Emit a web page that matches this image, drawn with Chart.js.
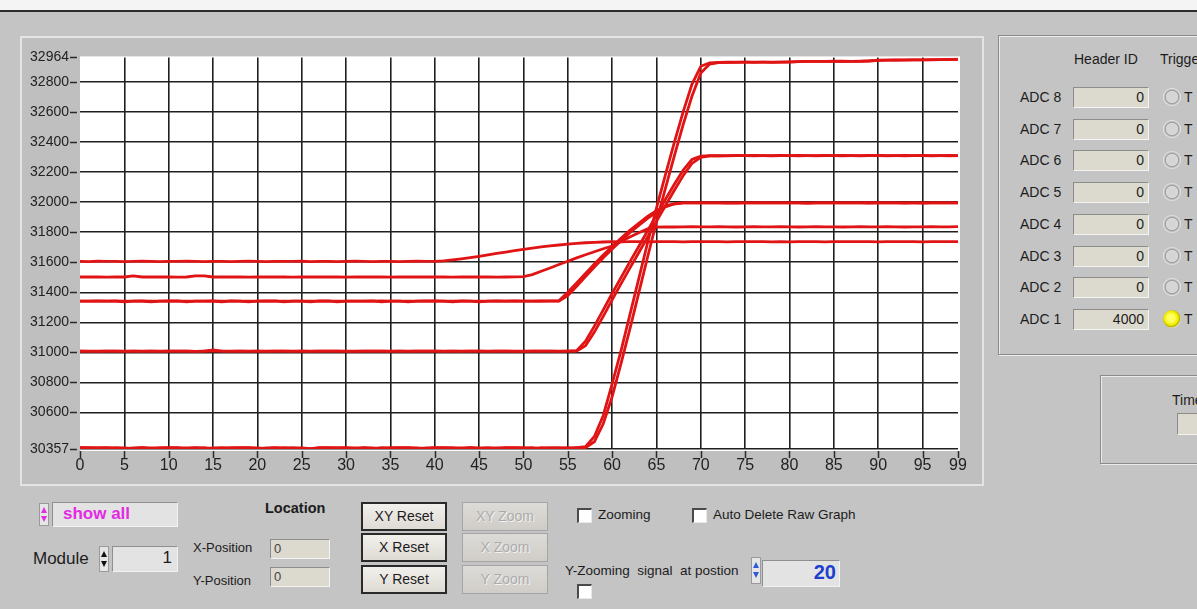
<!DOCTYPE html>
<html>
<head>
<meta charset="utf-8">
<title>ADC Raw Graph</title>
<script src="https://cdn.jsdelivr.net/npm/chart.js@4.4.1/dist/chart.umd.min.js"></script>
<style>
  html, body { margin: 0; padding: 0; }
  body {
    width: 1197px; height: 609px; position: relative; overflow: hidden;
    background: #c4c4c4;
    font-family: "Liberation Sans", Arial, sans-serif; color: #1c1c1c;
  }
  .abs { position: absolute; white-space: pre; }
  #titlebar { left: 0; top: 0; width: 1197px; height: 10px; background: #f4f4f4; border-bottom: 2px solid #2c2c2c; }
  #graphFrame { left: 20px; top: 36px; width: 964px; height: 450px; box-sizing: border-box;
    border: 2px solid #e4e4e4; background: #bfbfbf; }
  #chartBox { left: 22px; top: 38px; width: 958px; height: 440px; }
  .panel { box-sizing: border-box; border: 1px solid #8a8a8a; box-shadow: inset 1px 1px 0 #ececec, 1px 1px 0 #ececec; }
  .field { box-sizing: border-box; background: #dcd9cf; border-top: 1px solid #8c8c8c; border-left: 1px solid #8c8c8c;
    border-right: 1px solid #f4f4f4; border-bottom: 1px solid #f4f4f4; font-size: 14px; line-height: 18px; }
  .num { text-align: right; padding-right: 4px; }
  .lbl { font-size: 14px; }
  .led { width: 18px; height: 18px; border-radius: 50%; box-sizing: border-box;
    background: radial-gradient(circle at 50% 50%, #d6d6d6 0 45%, #9c9c9c 52%, #f0f0f0 70%, #8f8f8f 100%); }
  .led.on { background: radial-gradient(circle at 45% 45%, #ffff60 0 25%, #f1ea00 50%, #b9b400 62%, #efefef 72%, #8f8f8f 100%); }
  .btn { box-sizing: border-box; width: 86px; height: 29px; border: 2px solid #2a2a2a;
    background: linear-gradient(#f2f0ec, #dedbd5); font-size: 14px; text-align: center; line-height: 25px; }
  .btn.off { border: 1px solid #a4a4a4; color: #acacac; text-shadow: 1px 1px 0 #f2f2f2; line-height: 27px;
    background: linear-gradient(#dddbd7, #d0cdc8); }
  .chk { box-sizing: border-box; width: 15px; height: 15px; background: #fff;
    border-top: 2px solid #4a4a4a; border-left: 2px solid #4a4a4a; border-right: 1px solid #e8e8e8; border-bottom: 1px solid #e8e8e8; }
  .spin { box-sizing: border-box; width: 10px; border: 1px solid #9a9a9a; background: #e6e6e6; }
  .spin div { position: absolute; left: 1px; width: 0; height: 0; border-left: 3.5px solid transparent; border-right: 3.5px solid transparent; }
  .box { box-sizing: border-box; background: #e3e3e3; border-top: 1px solid #8f8f8f; border-left: 1px solid #8f8f8f;
    border-right: 1px solid #f2f2f2; border-bottom: 1px solid #f2f2f2; }
</style>
</head>
<body>
<div class="abs" id="titlebar"></div>
<div class="abs" id="graphFrame"></div>
<div class="abs" id="chartBox"><canvas id="rawGraph" width="958" height="440"></canvas></div>

<!-- header / trigger panel -->
<div class="abs panel" style="left:998px;top:35px;width:230px;height:320px;"></div>
<div class="abs lbl" style="left:1074px;top:51px;">Header ID</div>
<div class="abs lbl" style="left:1160px;top:51px;">Trigger</div>
<div id="adcRows"></div>

<div class="abs panel" style="left:1100px;top:375px;width:130px;height:89px;"></div>
<div class="abs lbl" style="left:1172px;top:392px;">Time</div>
<div class="abs field" style="left:1177px;top:413px;width:40px;height:22px;"></div>

<!-- display selector -->
<div class="abs spin" style="left:39px;top:503px;height:23px;"><div style="top:3px;border-bottom:6px solid #e02ee0;"></div><div style="top:12px;border-top:6px solid #e02ee0;"></div></div>
<div class="abs box" style="left:52px;top:502px;width:126px;height:25px;"></div>
<div class="abs" style="left:63px;top:504px;font-size:17px;font-weight:bold;color:#e22be2;">show all</div>

<div class="abs" style="left:33px;top:549px;font-size:17px;">Module</div>
<div class="abs spin" style="left:99px;top:546px;height:26px;"><div style="top:4px;border-bottom:6px solid #111;"></div><div style="top:14px;border-top:6px solid #111;"></div></div>
<div class="abs box" style="left:112px;top:546px;width:66px;height:26px;"></div>
<div class="abs" style="left:112px;top:548px;width:60px;text-align:right;font-size:17px;">1</div>

<!-- cursor location -->
<div class="abs" style="left:265px;top:500px;font-size:14.5px;font-weight:bold;">Location</div>
<div class="abs" style="left:193px;top:540px;font-size:13px;">X-Position</div>
<div class="abs field" style="left:270px;top:539px;width:60px;height:20px;font-size:13px;line-height:17px;padding-left:3px;color:#444;">0</div>
<div class="abs" style="left:193px;top:573px;font-size:13px;">Y-Position</div>
<div class="abs field" style="left:270px;top:567px;width:60px;height:20px;font-size:13px;line-height:17px;padding-left:3px;color:#444;">0</div>

<!-- zoom buttons -->
<div class="abs btn" style="left:361px;top:502px;">XY Reset</div>
<div class="abs btn" style="left:361px;top:533px;">X Reset</div>
<div class="abs btn" style="left:361px;top:565px;">Y Reset</div>
<div class="abs btn off" style="left:462px;top:502px;">XY Zoom</div>
<div class="abs btn off" style="left:462px;top:533px;">X Zoom</div>
<div class="abs btn off" style="left:462px;top:565px;">Y Zoom</div>

<div class="abs chk" style="left:577px;top:508px;"></div>
<div class="abs" style="left:598px;top:507px;font-size:13.5px;">Zooming</div>
<div class="abs chk" style="left:692px;top:508px;"></div>
<div class="abs" style="left:713px;top:507px;font-size:13.5px;">Auto Delete Raw Graph</div>

<div class="abs" style="left:565px;top:563px;font-size:13.5px;">Y-Zooming  signal  at postion</div>
<div class="abs chk" style="left:577px;top:584px;"></div>
<div class="abs spin" style="left:751px;top:557px;height:27px;"><div style="top:4px;border-bottom:6px solid #2e5ad8;"></div><div style="top:14px;border-top:6px solid #2e5ad8;"></div></div>
<div class="abs box" style="left:762px;top:560px;width:78px;height:27px;"></div>
<div class="abs" style="left:762px;top:561px;width:74px;text-align:right;font-size:20px;font-weight:bold;color:#1c3fcf;">20</div>

<script>
// ---- ADC header panel ----
const adcNames   = ["ADC 8", "ADC 7", "ADC 6", "ADC 5", "ADC 4", "ADC 3", "ADC 2", "ADC 1"];
const headerIds  = [0, 0, 0, 0, 0, 0, 0, 4000];
const triggered  = [false, false, false, false, false, false, false, true];

// ---- raw graph axes ----
const sampleIdx  = Array.from({ length: 100 }, (_, i) => i);
const xTicks     = [0, 5, 10, 15, 20, 25, 30, 35, 40, 45, 50, 55, 60, 65, 70, 75, 80, 85, 90, 95, 99];
const yTicks     = [30357, 30600, 30800, 31000, 31200, 31400, 31600, 31800, 32000, 32200, 32400, 32600, 32800, 32964];
const yMin = 30357, yMax = 32964, xMin = 0, xMax = 99;

// ---- raw ADC waveforms (one row per recorded pulse) ----
const pulseA = [
  31606,31605,31607,31606,31606,31605,31606,31608,31606,31605,
  31606,31606,31607,31606,31605,31606,31606,31605,31606,31607,
  31606,31605,31606,31606,31606,31607,31605,31606,31606,31605,
  31606,31607,31606,31605,31606,31606,31605,31606,31607,31606,
  31606,31610,31616,31623,31631,31640,31650,31659,31668,31677,
  31686,31694,31702,31709,31715,31721,31726,31730,31733,31735,
  31737,31736,31738,31737,31736,31737,31738,31737,31736,31737,
  31737,31738,31737,31736,31737,31737,31738,31737,31736,31737,
  31736,31737,31738,31737,31736,31737,31737,31738,31737,31737,
  31736,31737,31737,31738,31737,31736,31737,31737,31738,31737];
const pulseB = [
  31502,31503,31502,31501,31502,31502,31509,31502,31503,31502,
  31502,31501,31502,31510,31509,31502,31503,31502,31502,31501,
  31502,31502,31503,31502,31501,31502,31502,31503,31502,31502,
  31501,31502,31503,31502,31502,31501,31502,31502,31503,31502,
  31502,31502,31501,31502,31503,31502,31502,31501,31502,31503,
  31504,31518,31540,31562,31585,31607,31629,31650,31670,31690,
  31708,31738,31768,31797,31822,31834,31836,31835,31836,31837,
  31836,31836,31837,31836,31835,31836,31837,31836,31836,31837,
  31836,31835,31836,31837,31836,31836,31835,31836,31837,31836,
  31836,31837,31836,31835,31836,31836,31837,31836,31836,31837];
const pulseC = [
  31342,31341,31343,31342,31342,31336,31342,31343,31342,31341,
  31342,31343,31336,31342,31341,31342,31336,31343,31342,31342,
  31341,31342,31343,31336,31342,31342,31341,31342,31343,31336,
  31342,31341,31342,31342,31343,31342,31341,31336,31342,31343,
  31342,31341,31342,31343,31342,31336,31342,31341,31342,31343,
  31342,31341,31342,31343,31344,31400,31462,31525,31588,31648,
  31705,31760,31812,31860,31905,31944,31975,31991,31995,31996,
  31995,31996,31995,31994,31996,31995,31996,31997,31995,31995,
  31996,31995,31994,31996,31995,31996,31995,31995,31996,31997,
  31995,31996,31995,31994,31996,31995,31996,31995,31996,31995];
const pulseC2 = [
  31342,31342,31341,31342,31343,31342,31342,31341,31336,31342,
  31343,31342,31341,31342,31342,31343,31342,31341,31342,31336,
  31342,31343,31342,31342,31341,31342,31336,31343,31342,31342,
  31341,31342,31342,31343,31336,31342,31342,31341,31342,31342,
  31343,31342,31336,31342,31341,31342,31342,31343,31342,31341,
  31342,31342,31343,31342,31342,31378,31440,31505,31568,31630,
  31688,31744,31797,31846,31892,31934,31968,31988,31995,31996,
  31996,31995,31995,31996,31994,31995,31996,31995,31995,31996,
  31995,31996,31994,31995,31996,31995,31995,31996,31995,31994,
  31996,31995,31995,31996,31995,31994,31996,31995,31995,31996];
const pulseD = [
  31008,31007,31009,31008,31008,31007,31008,31009,31008,31007,
  31008,31009,31008,31007,31008,31016,31008,31007,31009,31008,
  31008,31007,31008,31009,31008,31008,31007,31008,31009,31008,
  31007,31008,31008,31009,31008,31007,31008,31008,31009,31008,
  31008,31007,31008,31009,31008,31008,31007,31008,31009,31008,
  31007,31008,31008,31009,31008,31008,31012,31075,31175,31283,
  31392,31498,31603,31705,31810,31914,32018,32118,32212,32284,
  32306,32310,32309,32310,32311,32310,32309,32310,32310,32311,
  32310,32309,32310,32310,32311,32310,32309,32310,32310,32311,
  32310,32309,32310,32311,32310,32310,32309,32310,32311,32310];
const pulseD2 = [
  31008,31008,31007,31008,31009,31008,31008,31007,31008,31008,
  31009,31008,31008,31007,31008,31008,31009,31008,31008,31007,
  31008,31008,31009,31008,31007,31008,31008,31008,31009,31008,
  31008,31007,31008,31008,31009,31008,31008,31007,31008,31008,
  31009,31008,31008,31007,31008,31008,31009,31008,31008,31007,
  31008,31008,31009,31008,31007,31008,31009,31045,31135,31240,
  31350,31456,31561,31663,31768,31872,31976,32078,32176,32258,
  32298,32309,32310,32309,32310,32310,32311,32310,32309,32310,
  32310,32311,32310,32309,32310,32310,32311,32310,32309,32310,
  32311,32310,32310,32309,32310,32311,32310,32310,32309,32310];
const pulseE = [
  30366,30365,30364,30366,30358,30358,30365,30366,30358,30365,
  30365,30366,30358,30365,30366,30358,30358,30365,30366,30365,
  30358,30365,30366,30358,30365,30358,30358,30365,30366,30365,
  30365,30358,30366,30365,30358,30365,30366,30365,30358,30365,
  30366,30365,30365,30358,30366,30365,30365,30358,30365,30366,
  30365,30358,30366,30365,30365,30358,30366,30372,30440,30580,
  30790,31010,31250,31490,31730,31960,32180,32395,32600,32785,
  32905,32928,32931,32932,32931,32932,32933,32932,32931,32932,
  32933,32936,32937,32938,32937,32938,32939,32938,32937,32940,
  32945,32946,32947,32946,32948,32947,32948,32949,32950,32951];
const pulseE2 = [
  30366,30366,30365,30365,30366,30365,30359,30366,30365,30365,
  30366,30365,30365,30366,30359,30365,30366,30365,30365,30366,
  30365,30359,30365,30366,30365,30365,30359,30366,30365,30365,
  30366,30365,30365,30359,30366,30365,30365,30366,30365,30359,
  30365,30366,30365,30365,30366,30359,30365,30365,30366,30365,
  30365,30366,30359,30365,30365,30366,30365,30366,30405,30525,
  30705,30925,31155,31395,31635,31870,32090,32305,32515,32705,
  32860,32920,32930,32931,32932,32932,32931,32933,32932,32932,
  32934,32936,32937,32937,32938,32939,32938,32938,32939,32941,
  32944,32946,32946,32947,32948,32948,32949,32949,32951,32952];

const pulses = [pulseA, pulseB, pulseC, pulseC2, pulseD, pulseD2, pulseE, pulseE2];

// build the ADC rows of the header panel
(function buildRows() {
  const host = document.getElementById('adcRows');
  adcNames.forEach((name, i) => {
    const cy = 97 + i * 31.7;
    host.insertAdjacentHTML('beforeend',
      `<div class="abs lbl" style="left:1020px;top:${cy - 8}px;">${name}</div>` +
      `<div class="abs field num" style="left:1073px;top:${cy - 10}px;width:76px;height:21px;">${headerIds[i]}</div>` +
      `<div class="abs led${triggered[i] ? ' on' : ''}" style="left:1163px;top:${cy - 9}px;"></div>` +
      `<div class="abs lbl" style="left:1184px;top:${cy - 8}px;">T</div>`);
  });
})();

// white plot background and the short axis tick marks (detached from the grid)
const plotDecor = {
  id: 'plotDecor',
  beforeDraw(chart) {
    const { ctx, chartArea: a } = chart;
    ctx.save();
    ctx.fillStyle = '#ffffff';
    ctx.fillRect(a.left, a.top - 1, a.right - a.left + 2, a.bottom - a.top + 3);
    ctx.restore();
  },
  afterDraw(chart) {
    const { ctx, chartArea: a, scales } = chart;
    ctx.save();
    ctx.strokeStyle = '#2a2a2a';
    ctx.lineWidth = 1.5;
    ctx.beginPath();
    xTicks.forEach(v => {
      const px = Math.round(scales.x.getPixelForValue(v)) + 0.5;
      ctx.moveTo(px, a.bottom + 2); ctx.lineTo(px, a.bottom + 9);
    });
    yTicks.forEach(v => {
      const py = Math.round(scales.y.getPixelForValue(v)) + 0.5;
      ctx.moveTo(a.left - 10, py); ctx.lineTo(a.left - 3, py);
    });
    ctx.stroke();
    ctx.restore();
  }
};

const gridColor = '#1f1f1f';

new Chart(document.getElementById('rawGraph'), {
  type: 'line',
  data: {
    datasets: pulses.map((vals, k) => ({
      label: 'pulse ' + (k + 1),
      data: vals.map((v, i) => ({ x: sampleIdx[i], y: v })),
      borderColor: '#e01414',
      borderWidth: 2.8,
      pointRadius: 0,
      tension: 0,
      fill: false
    }))
  },
  options: {
    responsive: false,
    animation: false,
    devicePixelRatio: 1,
    layout: { padding: { top: 10, right: 22, left: 0, bottom: 0 } },
    plugins: { legend: { display: false }, tooltip: { enabled: false } },
    scales: {
      x: {
        type: 'linear', min: xMin, max: xMax,
        afterBuildTicks: s => { s.ticks = xTicks.map(v => ({ value: v })); },
        afterFit: s => { s.height = 29; },
        border: { display: false },
        grid: {
          drawTicks: false, lineWidth: 1.6,
          color: c => (c.tick && (c.tick.value === xMin || c.tick.value === xMax)) ? 'rgba(0,0,0,0)' : gridColor
        },
        ticks: { padding: 7, maxRotation: 0, autoSkip: false, color: '#222',
          font: { family: '"Liberation Sans", Arial, sans-serif', size: 16 } }
      },
      y: {
        type: 'linear', min: yMin, max: yMax,
        afterBuildTicks: s => { s.ticks = yTicks.map(v => ({ value: v })); },
        afterFit: s => { s.width = 58; },
        border: { display: false },
        grid: {
          drawTicks: false, lineWidth: 1.6,
          color: c => (c.tick && c.tick.value === yMax) ? 'rgba(0,0,0,0)' : gridColor
        },
        ticks: { padding: 11, autoSkip: false, color: '#222',
          callback: v => String(v),
          font: { family: '"Liberation Sans", Arial, sans-serif', size: 14 } }
      }
    }
  },
  plugins: [plotDecor]
});
</script>
</body>
</html>
